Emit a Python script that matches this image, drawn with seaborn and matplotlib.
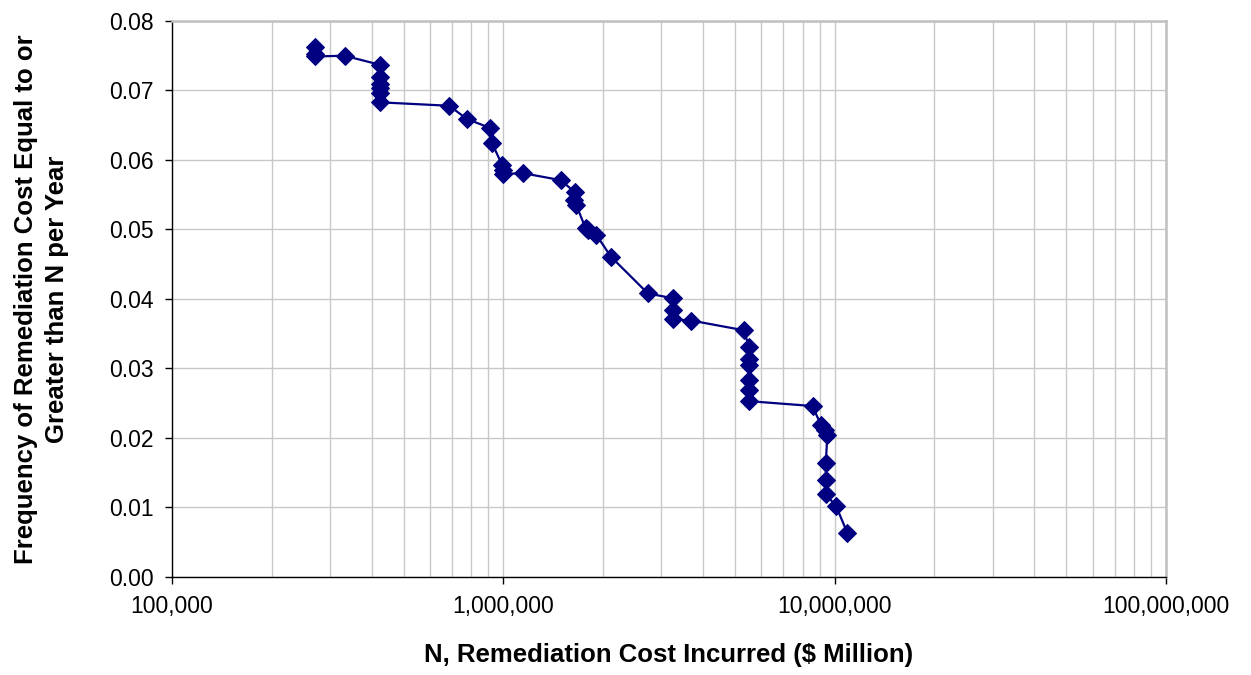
import numpy as np
import pandas as pd
import matplotlib
matplotlib.use('Agg')
import matplotlib.pyplot as plt
import matplotlib.ticker as mticker
import seaborn as sns

# Remediation cost (N), in the same order as the curve
cost = [271000, 271000, 271000, 332000, 424000, 424000, 424000, 424000, 424000, 424000,
        687000, 776000, 913000, 925000, 991000, 1000000, 1000000, 1147000, 1490000, 1640000,
        1630000, 1660000, 1770000, 1800000, 1910000, 2110000, 2730000, 3250000, 3250000,
        3250000, 3690000, 5320000, 5510000, 5510000, 5510000, 5510000, 5510000, 5510000,
        8570000, 9080000, 9380000, 9500000, 9400000, 9400000, 9400000, 10100000, 10900000]
frequency = [0.0762, 0.0753, 0.0749, 0.0750, 0.0737, 0.0720, 0.0710, 0.0703, 0.0696, 0.0683,
             0.0678, 0.0659, 0.0646, 0.0624, 0.0593, 0.0586, 0.0580, 0.0581, 0.0571, 0.0554,
             0.0542, 0.0535, 0.0502, 0.0499, 0.0492, 0.0461, 0.0408, 0.0401, 0.0384,
             0.0371, 0.0369, 0.0355, 0.0331, 0.0313, 0.0305, 0.0283, 0.0269, 0.0253,
             0.0246, 0.0219, 0.0212, 0.0204, 0.0164, 0.0140, 0.0119, 0.0102, 0.0064]

df = pd.DataFrame({'cost': cost, 'freq': frequency})

sns.set_style('white')
plt.rcParams['font.family'] = ['Liberation Sans', 'DejaVu Sans']
plt.rcParams['text.color'] = 'black'
plt.rcParams['axes.labelcolor'] = 'black'
plt.rcParams['xtick.color'] = 'black'
plt.rcParams['ytick.color'] = 'black'

fig = plt.figure(figsize=(12.51, 6.75), dpi=100)
ax = fig.add_axes([0.1375, 0.1452, 0.9321 - 0.1375, 0.9689 - 0.1452])

sns.lineplot(data=df, x='cost', y='freq', sort=False, estimator=None, ax=ax,
             color='#000080', linewidth=1.6, marker='D', markersize=9.5,
             markeredgecolor='#000080', markerfacecolor='#000080')

ax.set_xscale('log')
ax.set_xlim(1e5, 1e8)
ax.set_ylim(0, 0.08)
ax.set_yticks(np.arange(0, 0.081, 0.01))
ax.yaxis.set_major_formatter(mticker.FormatStrFormatter('%.2f'))
ax.xaxis.set_major_locator(mticker.LogLocator(base=10, numticks=10))
ax.xaxis.set_minor_locator(mticker.LogLocator(base=10, subs=np.arange(2, 10), numticks=100))
ax.xaxis.set_major_formatter(mticker.FuncFormatter(lambda v, p: f'{int(round(v)):,}'))
ax.xaxis.set_minor_formatter(mticker.NullFormatter())

ax.grid(True, which='major', axis='both', color='#c8c8c8', linewidth=1)
ax.grid(True, which='minor', axis='x', color='#c8c8c8', linewidth=1)
ax.set_axisbelow(True)

for s in ['top', 'right']:
    ax.spines[s].set_color('#c0c0c0')
    ax.spines[s].set_linewidth(1.8)
for s in ['left', 'bottom']:
    ax.spines[s].set_color('black')
    ax.spines[s].set_linewidth(1)

ax.tick_params(axis='both', which='major', direction='out', length=5, width=1,
               color='black', labelcolor='black', labelsize=16.5, pad=8,
               bottom=True, left=True)
ax.tick_params(axis='x', which='minor', bottom=False)

ax.set_xlabel('N, Remediation Cost Incurred ($ Million)', fontsize=18.5, fontweight='bold',
              color='black')
ax.set_ylabel('Frequency of Remediation Cost Equal to or\nGreater than N per Year',
              fontsize=18.5, fontweight='bold', linespacing=1.35, color='black')
ax.xaxis.label.set_verticalalignment('center')
ax.yaxis.label.set_verticalalignment('center')
ax.xaxis.set_label_coords(0.5, -0.141)
ax.yaxis.set_label_coords(-0.131, 0.5)

fig.savefig('out.png', dpi=100)
